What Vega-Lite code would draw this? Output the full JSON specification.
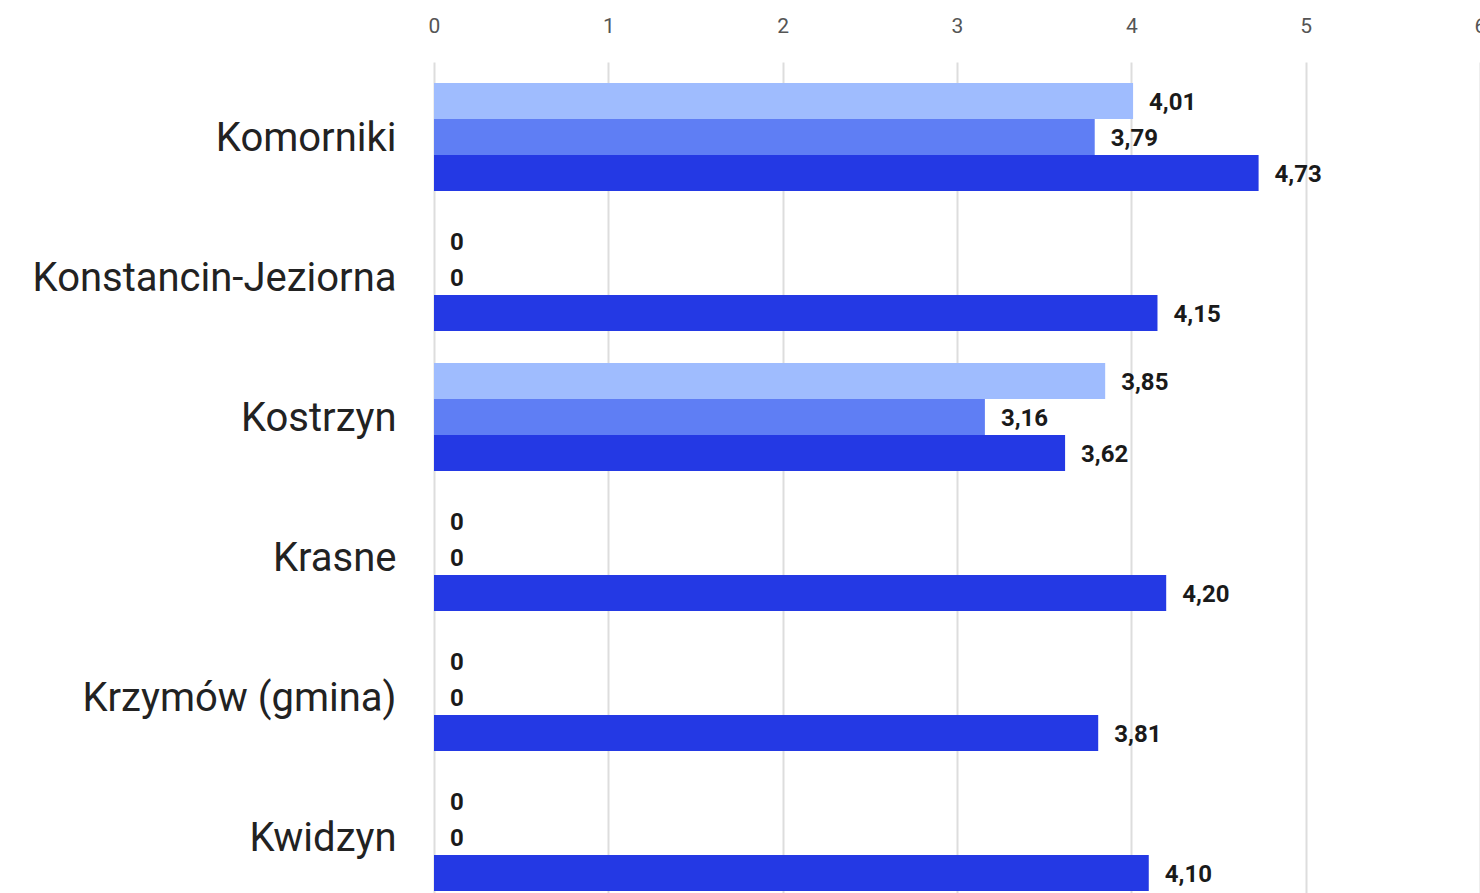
{
  "$schema": "https://vega.github.io/schema/vega-lite/v6.json",
  "autosize": {"type": "none"},
  "padding": {"left": 434, "top": 62, "right": 0, "bottom": 0},
  "width": 1046,
  "height": 831,
  "background": "white",
  "data": {
    "values": [
      {"gmina": "Komorniki", "seria": "Seria 1", "wartosc": 4.01},
      {"gmina": "Komorniki", "seria": "Seria 2", "wartosc": 3.79},
      {"gmina": "Komorniki", "seria": "Seria 3", "wartosc": 4.73},
      {"gmina": "Konstancin-Jeziorna", "seria": "Seria 1", "wartosc": 0},
      {"gmina": "Konstancin-Jeziorna", "seria": "Seria 2", "wartosc": 0},
      {"gmina": "Konstancin-Jeziorna", "seria": "Seria 3", "wartosc": 4.15},
      {"gmina": "Kostrzyn", "seria": "Seria 1", "wartosc": 3.85},
      {"gmina": "Kostrzyn", "seria": "Seria 2", "wartosc": 3.16},
      {"gmina": "Kostrzyn", "seria": "Seria 3", "wartosc": 3.62},
      {"gmina": "Krasne", "seria": "Seria 1", "wartosc": 0},
      {"gmina": "Krasne", "seria": "Seria 2", "wartosc": 0},
      {"gmina": "Krasne", "seria": "Seria 3", "wartosc": 4.20},
      {"gmina": "Krzymów (gmina)", "seria": "Seria 1", "wartosc": 0},
      {"gmina": "Krzymów (gmina)", "seria": "Seria 2", "wartosc": 0},
      {"gmina": "Krzymów (gmina)", "seria": "Seria 3", "wartosc": 3.81},
      {"gmina": "Kwidzyn", "seria": "Seria 1", "wartosc": 0},
      {"gmina": "Kwidzyn", "seria": "Seria 2", "wartosc": 0},
      {"gmina": "Kwidzyn", "seria": "Seria 3", "wartosc": 4.10}
    ]
  },
  "transform": [
    {"calculate": "datum.wartosc == 0 ? '0' : replace(format(datum.wartosc, '.2f'), '.', ',')", "as": "etykieta"}
  ],
  "encoding": {
    "y": {
      "field": "gmina",
      "type": "nominal",
      "sort": null,
      "scale": {"paddingInner": 0.2286, "paddingOuter": 0.0821, "align": 0.913},
      "axis": {
        "title": null,
        "domain": false,
        "ticks": false,
        "labelPadding": 38,
        "labelOffset": 2,
        "labelFont": "Roboto",
        "labelFontSize": 40,
        "labelColor": "#222222",
        "labelLimit": 600
      }
    },
    "yOffset": {
      "field": "seria",
      "type": "nominal",
      "sort": ["Seria 1", "Seria 2", "Seria 3"],
      "scale": {"paddingInner": 0, "paddingOuter": 0}
    },
    "x": {
      "field": "wartosc",
      "type": "quantitative",
      "scale": {"domain": [0, 6], "nice": false, "zero": true},
      "axis": {
        "orient": "top",
        "title": null,
        "domain": false,
        "ticks": false,
        "values": [0, 1, 2, 3, 4, 5, 6],
        "labelFlush": false,
        "labelOverlap": false,
        "labelPadding": 26,
        "labelFont": "Roboto",
        "labelFontSize": 21,
        "labelColor": "#555555",
        "gridColor": "#dddddd",
        "gridWidth": 2
      }
    }
  },
  "layer": [
    {
      "mark": {"type": "bar"},
      "encoding": {
        "color": {
          "field": "seria",
          "type": "nominal",
          "scale": {"domain": ["Seria 1", "Seria 2", "Seria 3"], "range": ["#9fbcfe", "#5f7ef4", "#2439e4"]},
          "legend": null
        }
      }
    },
    {
      "mark": {"type": "text", "align": "left", "baseline": "middle", "dx": 16, "dy": 2, "font": "Roboto", "fontSize": 24, "fontWeight": "bold", "color": "#1a1a1a"},
      "encoding": {
        "text": {"field": "etykieta", "type": "nominal"}
      }
    }
  ],
  "config": {"view": {"stroke": null}}
}
